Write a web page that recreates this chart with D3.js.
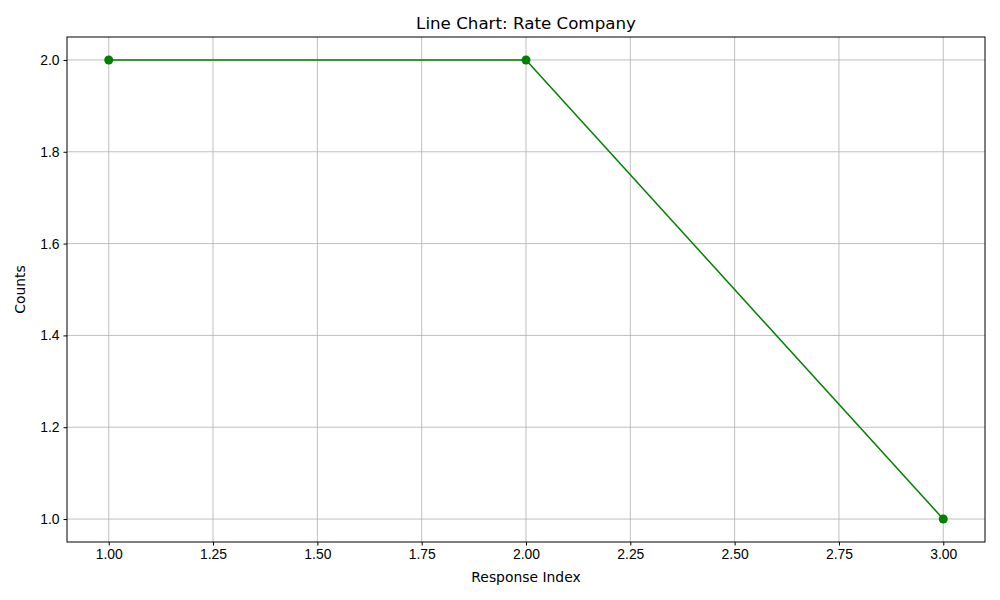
<!DOCTYPE html>
<html>
<head>
<meta charset="utf-8">
<script src="https://cdn.jsdelivr.net/npm/d3@7"></script>
<style>
  body { margin: 0; background: #fff; }
  svg { font-family: "DejaVu Sans", sans-serif; }
  .axis text { font-size: 13.9px; fill: #000; }
  .axis path, .axis line { stroke: #000; stroke-width: 1; }
</style>
</head>
<body>
<svg id="chart" width="1000" height="600"></svg>
<script>
'use strict';

const responseIndex = [1, 2, 3];
const counts = [2, 2, 1];
const xTicks = [1.0, 1.25, 1.5, 1.75, 2.0, 2.25, 2.5, 2.75, 3.0];
const yTicks = [1.0, 1.2, 1.4, 1.6, 1.8, 2.0];

const svg = d3.select('#chart');
const margin = { top: 37, right: 15, bottom: 58, left: 67 };
const width = 1000, height = 600;

const x = d3.scaleLinear()
  .domain([0.9, 3.1])
  .range([margin.left, width - margin.right]);

const y = d3.scaleLinear()
  .domain([0.95, 2.05])
  .range([height - margin.bottom, margin.top]);

// grid
const grid = svg.append('g').attr('stroke', '#b0b0b0').attr('stroke-width', 0.8);
grid.selectAll('.gx').data(xTicks).enter().append('line')
  .attr('x1', d => x(d)).attr('x2', d => x(d))
  .attr('y1', margin.top).attr('y2', height - margin.bottom);
grid.selectAll('.gy').data(yTicks).enter().append('line')
  .attr('x1', margin.left).attr('x2', width - margin.right)
  .attr('y1', d => y(d)).attr('y2', d => y(d));

const data = responseIndex.map((d, i) => ({ x: d, y: counts[i] }));

svg.append('path')
  .datum(data)
  .attr('fill', 'none')
  .attr('stroke', 'green')
  .attr('stroke-width', 1.5)
  .attr('d', d3.line().x(d => x(d.x)).y(d => y(d.y)));

svg.append('g')
  .selectAll('circle')
  .data(data)
  .enter().append('circle')
  .attr('cx', d => x(d.x))
  .attr('cy', d => y(d.y))
  .attr('r', 4.5)
  .attr('fill', 'green');

// frame
svg.append('rect')
  .attr('x', margin.left).attr('y', margin.top)
  .attr('width', width - margin.left - margin.right)
  .attr('height', height - margin.top - margin.bottom)
  .attr('fill', 'none').attr('stroke', '#000').attr('stroke-width', 1);

const xAxis = svg.append('g')
  .attr('class', 'axis')
  .attr('transform', 'translate(0,' + (height - margin.bottom) + ')')
  .call(d3.axisBottom(x).tickValues(xTicks).tickFormat(d3.format('.2f')).tickSize(3.5).tickPadding(4));
xAxis.select('.domain').remove();

const yAxis = svg.append('g')
  .attr('class', 'axis')
  .attr('transform', 'translate(' + margin.left + ',0)')
  .call(d3.axisLeft(y).tickValues(yTicks).tickFormat(d3.format('.1f')).tickSize(3.5).tickPadding(4));
yAxis.select('.domain').remove();

svg.append('text')
  .attr('x', (margin.left + width - margin.right) / 2)
  .attr('y', 582)
  .attr('text-anchor', 'middle')
  .attr('font-size', 13.9)
  .text('Response Index');

svg.append('text')
  .attr('transform', 'translate(25,' + ((margin.top + height - margin.bottom) / 2) + ') rotate(-90)')
  .attr('text-anchor', 'middle')
  .attr('font-size', 13.9)
  .text('Counts');

svg.append('text')
  .attr('x', (margin.left + width - margin.right) / 2)
  .attr('y', 29)
  .attr('text-anchor', 'middle')
  .attr('font-size', 16.7)
  .text('Line Chart: Rate Company');
</script>
</body>
</html>
